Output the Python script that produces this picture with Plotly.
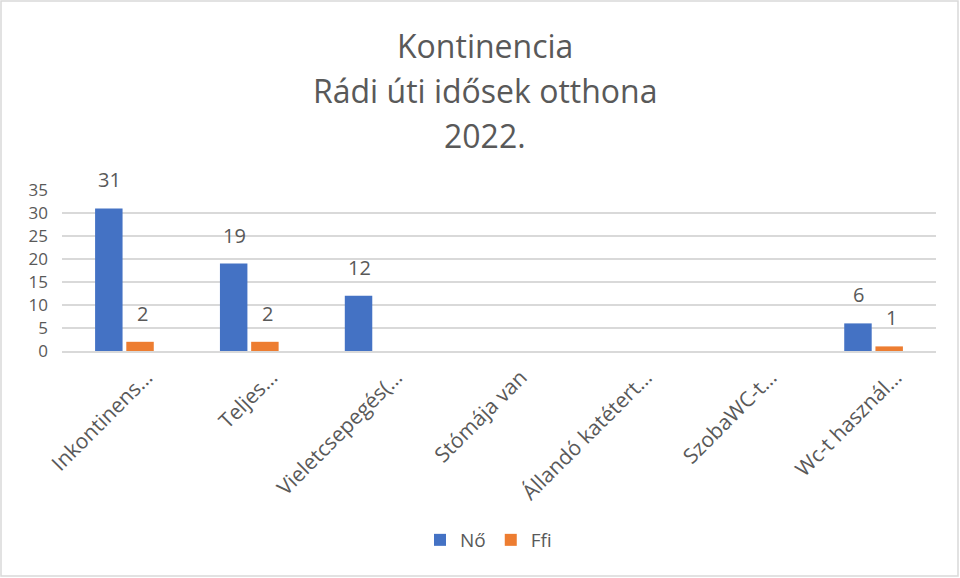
import plotly.graph_objects as go

categories = ["Inkontinens…", "Teljes…", "Vieletcsepegés(…", "Stómája van",
              "Állandó katétert…", "SzobaWC-t…", "Wc-t használ…"]
no_values = [31, 19, 12, 0, 0, 0, 6]
ffi_values = [2, 2, 0, 0, 0, 0, 1]
y_ticks = [0, 5, 10, 15, 20, 25, 30, 35]
title_lines = ["Kontinencia", "Rádi úti idősek otthona", "2022."]

W, H = 960, 578
ML, MR, MT, MB = 62, 24, 190, 227
pw, ph = W - ML - MR, H - MT - MB

FONT = "Open Sans"
GREY = "#595959"

fig = go.Figure()
fig.add_trace(go.Bar(x=categories, y=no_values, name="Nő", marker_color="#4472C4",
                     marker_line_width=0))
fig.add_trace(go.Bar(x=categories, y=ffi_values, name="Ffi", marker_color="#ED7D31",
                     marker_line_width=0))

# data labels
for vals, xs in ((no_values, -15), (ffi_values, 18)):
    for c, v in zip(categories, vals):
        if v:
            fig.add_annotation(x=c, y=v, text=str(v), showarrow=False, xref="x", yref="y",
                               xshift=xs, yshift=13, yanchor="bottom",
                               font=dict(size=20, color=GREY, family=FONT))

# title lines
for i, t in enumerate(title_lines):
    fig.add_annotation(x=(485 - ML) / pw, xref="paper", y=1 + (MT - (45 + 45 * i)) / ph,
                       yref="paper", text=t, showarrow=False, xanchor="center",
                       yanchor="middle", font=dict(size=32, color=GREY, family=FONT))

fig.update_layout(
    width=W, height=H,
    margin=dict(l=ML, r=MR, t=MT, b=MB),
    paper_bgcolor="white", plot_bgcolor="white",
    barmode="group", bargap=0.5, bargroupgap=0.12,
    font=dict(family=FONT, color=GREY),
    legend=dict(orientation="h", x=0.488, xanchor="center", y=-(540 - (MT + ph)) / ph,
                yanchor="middle", font=dict(size=19, color=GREY, family=FONT),
                itemwidth=30, traceorder="normal"),
    showlegend=True,
)
fig.update_yaxes(range=[0, 35], tickvals=y_ticks, showgrid=True, gridcolor="#D9D9D9",
                 gridwidth=1.5, zeroline=False, showline=False,
                 tickfont=dict(size=17, color=GREY, family=FONT), ticks="", ticklen=0,
                 ticklabelstandoff=13)
fig.update_xaxes(tickangle=-45, showline=True, linecolor="#D9D9D9", linewidth=1.5,
                 tickfont=dict(size=21, color=GREY, family=FONT), ticks="",
                 ticklabelshift=22, ticklabelstandoff=4)

fig.add_shape(type="rect", xref="paper", yref="paper",
              x0=(1 - ML) / pw, x1=(W - 2 - ML) / pw,
              y0=-(H - 2 - MT - ph) / ph, y1=1 + (MT - 1) / ph,
              line=dict(color="#D9D9D9", width=1.5), fillcolor="rgba(0,0,0,0)")

fig.write_html("out.html", config={"displayModeBar": False},
               post_script="document.body.style.margin='0';")
